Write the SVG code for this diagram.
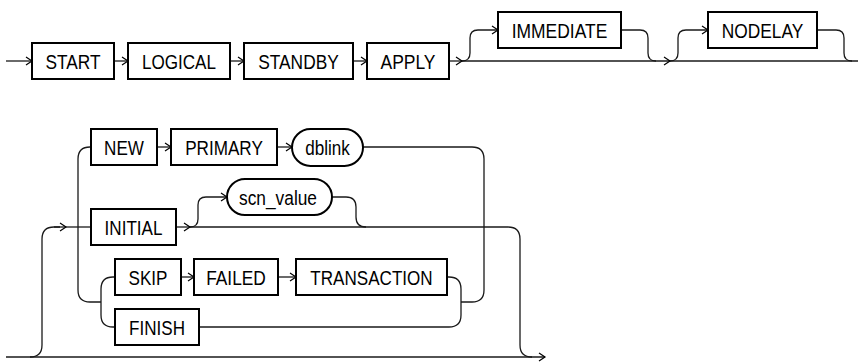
<svg xmlns="http://www.w3.org/2000/svg" width="861" height="362" viewBox="0 0 861 362">
<defs>
<marker id="arr" markerUnits="userSpaceOnUse" markerWidth="10" markerHeight="10" viewBox="-8 -5 10 10" refX="0" refY="0" orient="auto">
<path d="M-6,-4 L0,0 L-6,4" fill="none" stroke="#000" stroke-width="1.2"/>
</marker>
</defs>
<style>
.box{fill:#fff;stroke:#000;stroke-width:2}
.t{font-family:"Liberation Sans",Arial,sans-serif;font-size:20.5px;fill:#000;text-anchor:middle}
.c path{fill:none;stroke:#1a1a1a;stroke-width:1.3}
.a{marker-end:url(#arr)}
</style>
<g class="c" id="connectors">
<path class="a" d="M6,61 H32"/>
<path class="a" d="M114,61 H128"/>
<path class="a" d="M230,61 H244"/>
<path class="a" d="M353,61 H367"/>
<path class="a" d="M449,61 H462"/>
<path class="a" d="M462,61 H670"/>
<path d="M670,61 H858"/>
<path class="a" d="M462,61 Q470,61 470,53 V38 Q470,30 478,30 H498"/>
<path d="M621,30 H640 Q648,30 648,38 V53 Q648,61 656,61"/>
<path class="a" d="M670,61 Q678,61 678,53 V38 Q678,30 686,30 H708"/>
<path d="M817,30 H836 Q844,30 844,38 V53 Q844,61 852,61"/>
<path class="a" d="M6,357 H545"/>
<path d="M30,357 Q42,357 42,345 V239 Q42,227 54,227 H60"/>
<path class="a" d="M54,227 H66"/>
<path d="M66,227 H91"/>
<path d="M91,147 H90 Q78,147 78,159 V290 Q78,302 90,302 H101"/>
<path d="M115,277 H113 Q101,277 101,289 V315 Q101,327 113,327 H115"/>
<path class="a" d="M157,147 H171"/>
<path class="a" d="M277,147 H292"/>
<path d="M363,147 H472 Q484,147 484,159 V290 Q484,302 472,302 H461"/>
<path class="a" d="M181,277 H194"/>
<path class="a" d="M278,277 H296"/>
<path d="M447,277 H449 Q461,277 461,289 V315 Q461,327 449,327 H199"/>
<path class="a" d="M176,227 H190"/>
<path d="M190,227 H508 Q520,227 520,239 V345 Q520,357 532,357"/>
<path class="a" d="M190,227 Q198,227 198,219 V205 Q198,197 206,197 H227"/>
<path d="M332,197 H346 Q356,197 356,207 V217 Q356,227 366,227"/>
</g>
<g id="start"><rect class="box" x="32" y="43" width="82" height="36"/><text class="t" x="73" y="68.5" textLength="55" lengthAdjust="spacingAndGlyphs">START</text></g>
<g id="logical"><rect class="box" x="128" y="43" width="102" height="36"/><text class="t" x="179" y="68.5" textLength="74" lengthAdjust="spacingAndGlyphs">LOGICAL</text></g>
<g id="standby"><rect class="box" x="244" y="43" width="109" height="36"/><text class="t" x="298.5" y="68.5" textLength="80.6" lengthAdjust="spacingAndGlyphs">STANDBY</text></g>
<g id="apply"><rect class="box" x="367" y="43" width="82" height="36"/><text class="t" x="408" y="68.5" textLength="55" lengthAdjust="spacingAndGlyphs">APPLY</text></g>
<g id="immediate"><rect class="box" x="498" y="12" width="123" height="36"/><text class="t" x="559.5" y="37.5" textLength="95.6" lengthAdjust="spacingAndGlyphs">IMMEDIATE</text></g>
<g id="nodelay"><rect class="box" x="708" y="12" width="109" height="36"/><text class="t" x="762.5" y="37.5" textLength="81.5" lengthAdjust="spacingAndGlyphs">NODELAY</text></g>
<g id="new"><rect class="box" x="91" y="129" width="66" height="36"/><text class="t" x="124" y="154.5" textLength="39.8" lengthAdjust="spacingAndGlyphs">NEW</text></g>
<g id="primary"><rect class="box" x="171" y="129" width="106" height="36"/><text class="t" x="224" y="154.5" textLength="77.7" lengthAdjust="spacingAndGlyphs">PRIMARY</text></g>
<g id="dblink"><rect class="box" x="292" y="129" width="71" height="37" rx="18.5" ry="18.5"/><text class="t" x="327.5" y="155" textLength="44.6" lengthAdjust="spacingAndGlyphs">dblink</text></g>
<g id="initial"><rect class="box" x="91" y="209" width="85" height="36"/><text class="t" x="133.5" y="234.5" textLength="57.8" lengthAdjust="spacingAndGlyphs">INITIAL</text></g>
<g id="scn_value"><rect class="box" x="227" y="179" width="105" height="36" rx="18" ry="18"/><text class="t" x="278" y="204.5" textLength="78" lengthAdjust="spacingAndGlyphs">scn_value</text></g>
<g id="skip"><rect class="box" x="115" y="259" width="66" height="36"/><text class="t" x="148" y="284.5" textLength="38.9" lengthAdjust="spacingAndGlyphs">SKIP</text></g>
<g id="failed"><rect class="box" x="194" y="259" width="84" height="36"/><text class="t" x="236" y="284.5" textLength="59.7" lengthAdjust="spacingAndGlyphs">FAILED</text></g>
<g id="transaction"><rect class="box" x="296" y="259" width="151" height="36"/><text class="t" x="371.5" y="284.5" textLength="122.3" lengthAdjust="spacingAndGlyphs">TRANSACTION</text></g>
<g id="finish"><rect class="box" x="115" y="309" width="84" height="36"/><text class="t" x="157" y="334.5" textLength="55.9" lengthAdjust="spacingAndGlyphs">FINISH</text></g>
</svg>
